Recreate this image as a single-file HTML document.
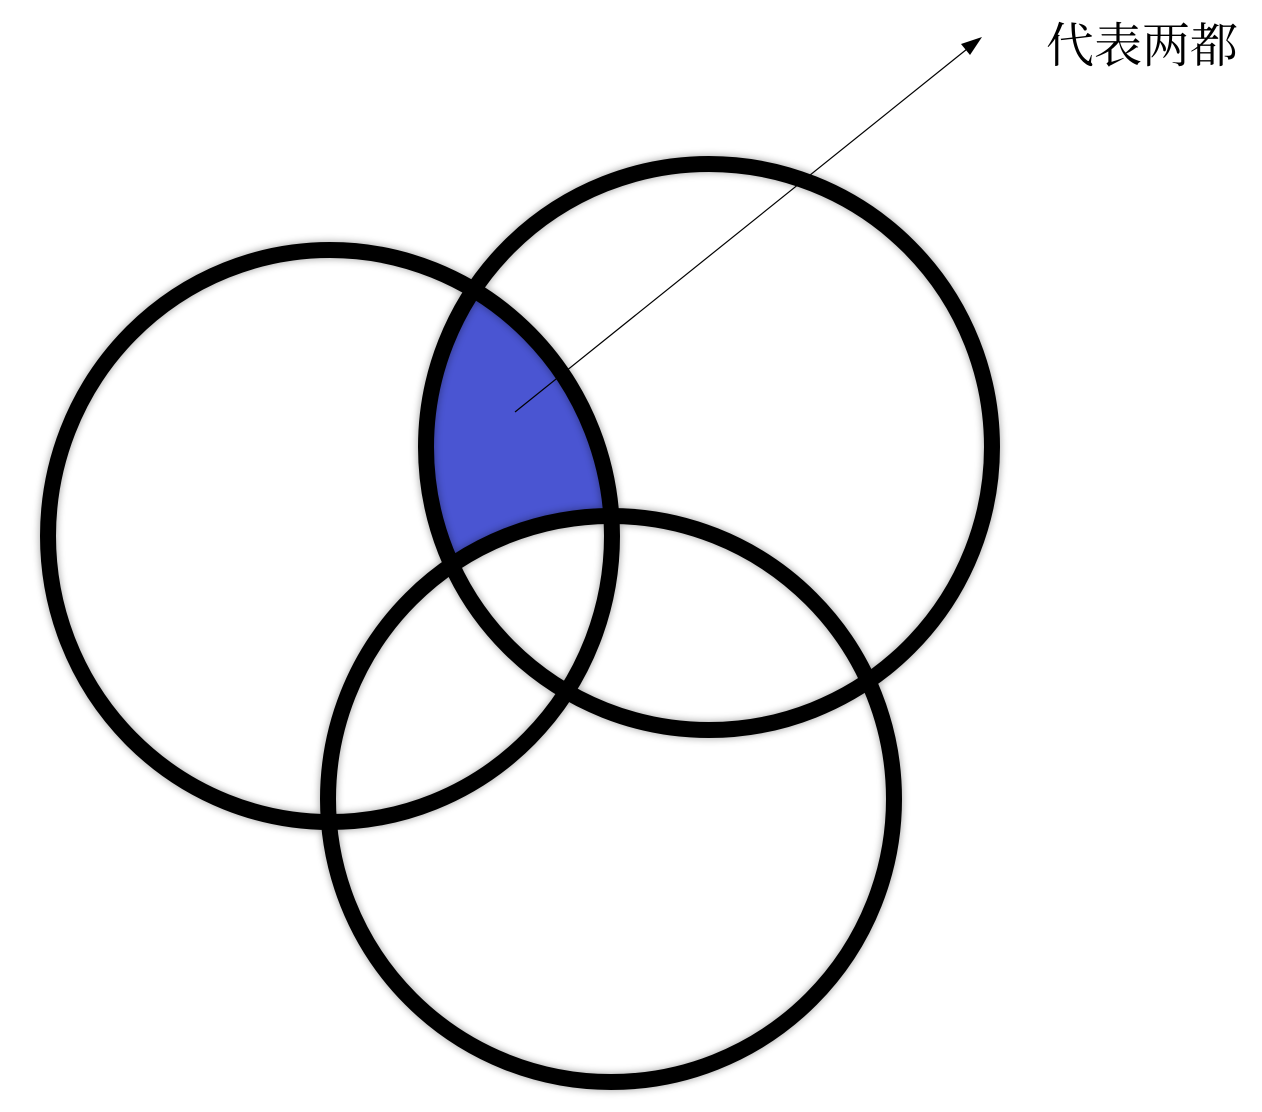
<!DOCTYPE html>
<html><head><meta charset="utf-8"><style>
html,body{margin:0;padding:0;background:#fff;}
svg{display:block;}
</style></head><body>
<svg width="1262" height="1112" viewBox="0 0 1262 1112" xmlns="http://www.w3.org/2000/svg">
<defs>
<clipPath id="cl"><ellipse cx="330" cy="536" rx="282" ry="286"/></clipPath>
<clipPath id="cr"><circle cx="709" cy="447" r="283"/></clipPath>
<mask id="mb"><rect width="1262" height="1112" fill="#fff"/><circle cx="611" cy="799" r="283" fill="#000"/></mask>
<filter id="bl"><feGaussianBlur stdDeviation="4"/></filter>
</defs>
<g mask="url(#mb)"><g clip-path="url(#cl)"><g clip-path="url(#cr)">
<rect x="380" y="250" width="300" height="320" fill="#4a55d2"/>
</g></g></g>
<g fill="none" stroke="#000" stroke-width="17" filter="url(#bl)" opacity="0.35">
<ellipse cx="330" cy="536" rx="282" ry="286"/><circle cx="709" cy="447" r="283"/><circle cx="611" cy="799" r="283"/>
</g>
<g fill="none" stroke="#000" stroke-width="16">
<ellipse cx="330" cy="536" rx="282" ry="286"/>
<circle cx="709" cy="447" r="283"/>
<circle cx="611" cy="799" r="283"/>
</g>
<line x1="515" y1="412" x2="972" y2="45" stroke="#000" stroke-width="1.2"/>
<polygon points="982,37 961,44 970,55" fill="#000"/>
<text x="1046" y="62" font-family="'Liberation Serif','Noto Serif CJK SC',serif" font-size="48" fill="#000">代表两都</text>
</svg>
</body></html>
